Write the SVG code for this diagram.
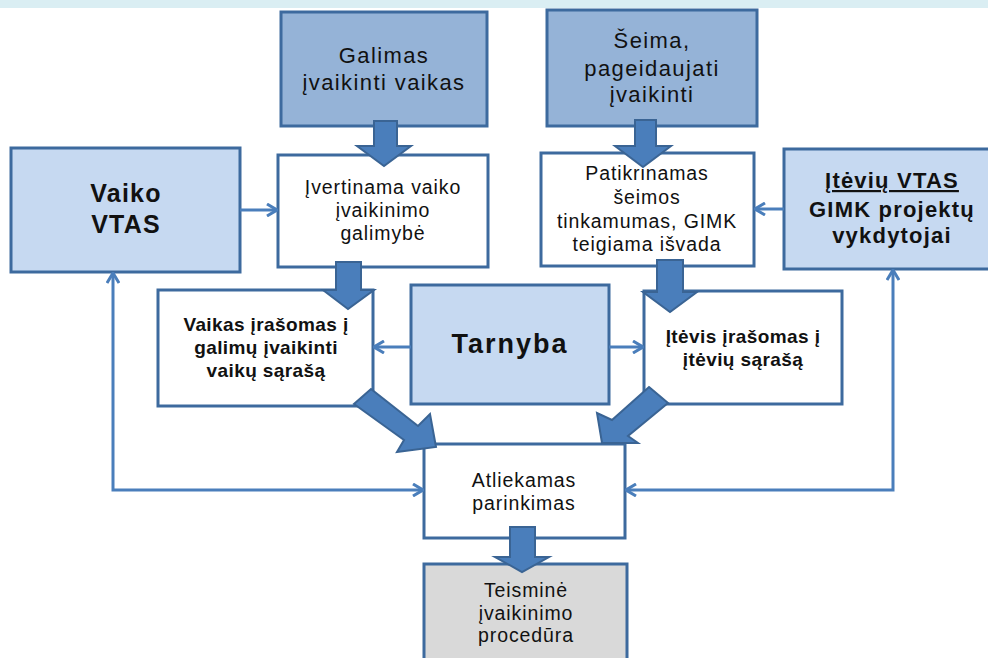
<svg xmlns="http://www.w3.org/2000/svg" width="988" height="658" viewBox="0 0 988 658">
<style>
.box{stroke:#3D6A9E;stroke-width:3}
.dark{fill:#95B3D7}
.light{fill:#C6D9F1}
.white{fill:#FFFFFF}
.grey{fill:#D9D9D9}
text{font-family:"Liberation Sans",Arial,sans-serif;fill:#111;text-anchor:middle}
.t22{font-size:22px;letter-spacing:1.4px}
.t19{font-size:19.5px;letter-spacing:0.9px}
.b19{font-size:19px;font-weight:bold;letter-spacing:0.4px}
.block{fill:#4A7EBB;stroke:#3A6494;stroke-width:2;stroke-linejoin:miter}
.thin{fill:none;stroke:#4A7EBB;stroke-width:3}
</style>
<defs>
<marker id="ah" viewBox="0 0 12 14" refX="11" refY="7" markerWidth="12" markerHeight="14" markerUnits="userSpaceOnUse" orient="auto-start-reverse">
<path d="M1,1 L11,7 L1,13" fill="none" stroke="#4A7EBB" stroke-width="3"/>
</marker>
</defs>
<rect x="0" y="0" width="988" height="8" fill="#DAEEF3"/>

<g id="galimas">
<rect class="box dark" x="281" y="12" width="206" height="114"/>
<text class="t22" x="384" y="63">Galimas</text>
<text class="t22" x="384" y="90">įvaikinti vaikas</text>
</g>
<g id="seima">
<rect class="box dark" x="547" y="10" width="210" height="116"/>
<text class="t22" x="652" y="48">Šeima,</text>
<text class="t22" x="652" y="76">pageidaujati</text>
<text class="t22" x="652" y="102">įvaikinti</text>
</g>
<g id="vaiko-vtas">
<rect class="box light" x="11" y="148" width="229" height="124"/>
<text font-weight="bold" font-size="25" letter-spacing="1.2" x="126" y="202">Vaiko</text>
<text font-weight="bold" font-size="25" letter-spacing="1.2" x="126" y="233">VTAS</text>
</g>
<g id="ivertinama">
<rect class="box white" x="278" y="155" width="210" height="112"/>
<text class="t19" x="383" y="194">Įvertinama vaiko</text>
<text class="t19" x="383" y="217">įvaikinimo</text>
<text class="t19" x="383" y="240">galimybė</text>
</g>
<g id="patikrinamas">
<rect class="box white" x="541" y="153" width="213" height="113"/>
<text class="t19" x="647" y="180">Patikrinamas</text>
<text class="t19" x="647" y="204">šeimos</text>
<text class="t19" x="647" y="228">tinkamumas, GIMK</text>
<text class="t19" x="647" y="251">teigiama išvada</text>
</g>
<g id="iteviu-vtas">
<rect class="box light" x="784" y="149" width="220" height="120"/>
<text font-weight="bold" font-size="22" letter-spacing="1.2" x="892" y="188" text-decoration="underline">Įtėvių VTAS</text>
<text font-weight="bold" font-size="22" letter-spacing="1.2" x="892" y="217">GIMK projektų</text>
<text font-weight="bold" font-size="22" letter-spacing="1.2" x="892" y="243">vykdytojai</text>
</g>
<g id="vaikas-irasomas">
<rect class="box white" x="158" y="290" width="215" height="116"/>
<text class="b19" x="266" y="331">Vaikas įrašomas į</text>
<text class="b19" x="266" y="354">galimų įvaikinti</text>
<text class="b19" x="266" y="377">vaikų sąrašą</text>
</g>
<g id="tarnyba">
<rect class="box light" x="411" y="285" width="198" height="119"/>
<text font-weight="bold" font-size="27" letter-spacing="2" x="510" y="353">Tarnyba</text>
</g>
<g id="itevis-irasomas">
<rect class="box white" x="644" y="291" width="198" height="113"/>
<text class="b19" x="743" y="343">Įtėvis įrašomas į</text>
<text class="b19" x="743" y="366">įtėvių sąrašą</text>
</g>
<g id="atliekamas">
<rect class="box white" x="424" y="444" width="201" height="94"/>
<text class="t19" x="524" y="487">Atliekamas</text>
<text class="t19" x="524" y="510">parinkimas</text>
</g>
<g id="teismine">
<rect class="box grey" x="424" y="564" width="203" height="100"/>
<text class="t19" x="526" y="597">Teisminė</text>
<text class="t19" x="526" y="619.5">įvaikinimo</text>
<text class="t19" x="526" y="642">procedūra</text>
</g>

<g id="connectors">
<line class="thin" x1="240" y1="210" x2="277" y2="210" marker-end="url(#ah)"/>
<line class="thin" x1="784" y1="209" x2="755" y2="209" marker-end="url(#ah)"/>
<line class="thin" x1="411" y1="347" x2="374" y2="347" marker-end="url(#ah)"/>
<line class="thin" x1="609" y1="347" x2="643" y2="347" marker-end="url(#ah)"/>
<polyline class="thin" points="113,273 113,490 423,490" marker-start="url(#ah)" marker-end="url(#ah)"/>
<polyline class="thin" points="893,270 893,490 626,490" marker-start="url(#ah)" marker-end="url(#ah)"/>

<polygon class="block" points="374,121 397,121 397,146 411,146 384,166 357,146 374,146"/>
<polygon class="block" points="635,120 656,120 656,146 671,146 643,167 615,146 635,146"/>
<polygon class="block" points="336,262 361,262 361,290 374,290 348,309 323,290 336,290"/>
<polygon class="block" points="657,260 683,260 683,292 697,292 670,312 643,292 657,292"/>
<polygon class="block" points="510,527 535,527 535,557 549,557 522,572 495,557 510,557"/>
<polygon class="block" points="371,389 418,426 430,414 436,447 397,452 404,440 354,404"/>
<polygon class="block" points="649,387 668,403 628,436 638,443 602,443 597,413 612,420"/>
</g>
</svg>
